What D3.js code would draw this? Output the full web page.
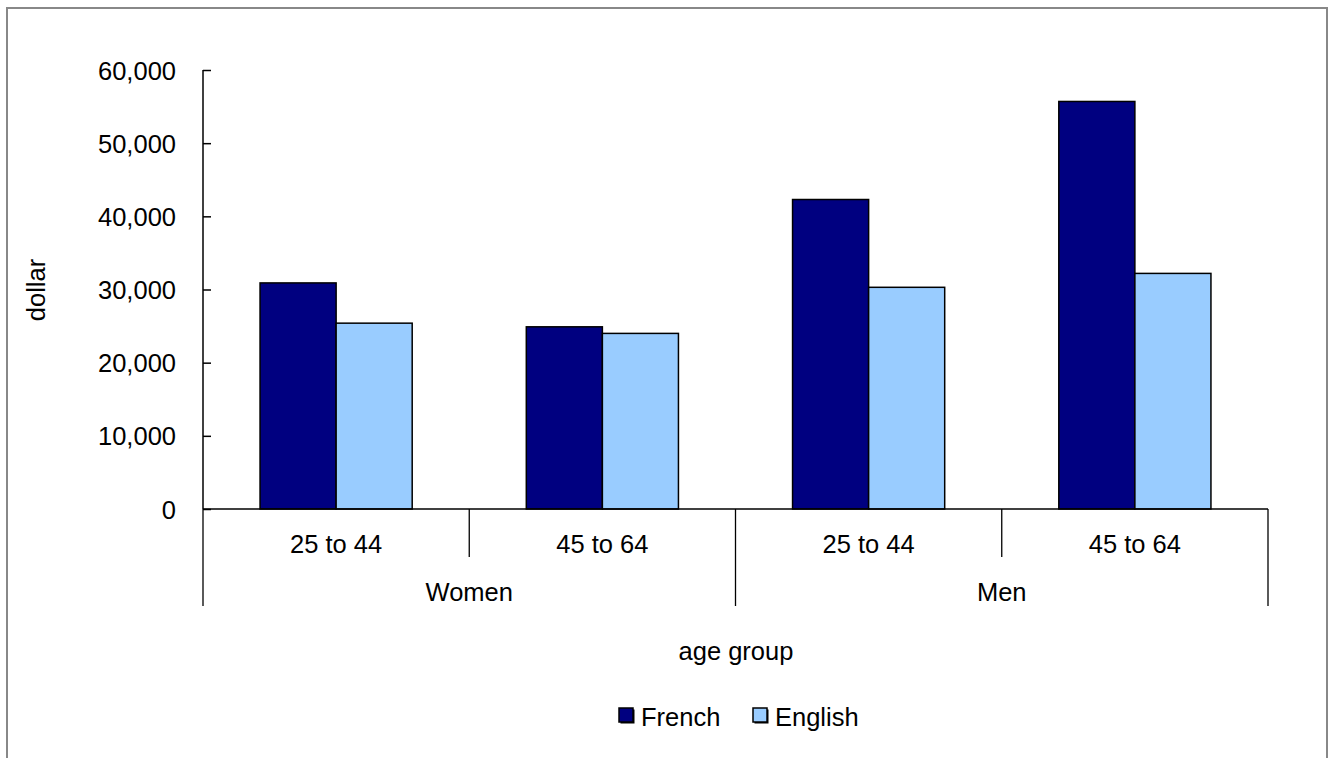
<!DOCTYPE html>
<html><head><meta charset="utf-8">
<script src="https://cdn.jsdelivr.net/npm/d3@7"></script>
<style>body{margin:0;background:#fff}svg{display:block;font-family:"Liberation Sans",Arial,sans-serif}</style>
</head><body>
<svg id="c" width="1328" height="758"></svg>
<script>
const groups = ["Women", "Men"];
const ageGroups = ["25 to 44", "45 to 64"];
const series = ["French", "English"];
const colors = ["#000080", "#99CCFF"];
const french = [30900, 24900, 42300, 55700];
const english = [25400, 24000, 30300, 32200];
const yTicks = [0, 10000, 20000, 30000, 40000, 50000, 60000];

const FS = 25.5;
const svg = d3.select("#c");
const L = 203, R = 1268, T = 70, B = 509;
const cats = [];
groups.forEach(g => ageGroups.forEach(a => cats.push(g + "|" + a)));
const x = d3.scaleBand().domain(cats).range([L, R]).paddingInner(0).paddingOuter(0);
const y = d3.scaleLinear().domain([0, 60000]).range([B, T]);
const vals = [french, english];

// frame
svg.append("rect").attr("x", 7).attr("y", 8).attr("width", 1320).attr("height", 770)
  .attr("fill", "#fff").attr("stroke", "#888").attr("stroke-width", 2);

// bars
const bw = x.bandwidth() / 3.5;
cats.forEach((c, i) => {
  series.forEach((s, j) => {
    const x0 = x(c) + bw * 0.75 + j * bw;
    svg.append("rect").attr("x", x0).attr("y", y(vals[j][i]))
      .attr("width", bw).attr("height", y(0) - y(vals[j][i]))
      .attr("fill", colors[j]).attr("stroke", "#000").attr("stroke-width", 1.5);
  });
});

// y axis
const ya = svg.append("g").attr("transform", `translate(${L},0)`)
  .call(d3.axisRight(y).tickValues(yTicks).tickSize(8).tickFormat(""));
ya.select(".domain").remove();
ya.selectAll("line").attr("stroke", "#000").attr("stroke-width", 1.5);
svg.append("line").attr("x1", L).attr("x2", L).attr("y1", T).attr("y2", B)
  .attr("stroke", "#000").attr("stroke-width", 1.5);
svg.selectAll(".yl").data(yTicks).enter().append("text")
  .attr("x", 176).attr("y", d => y(d) + 9.5)
  .attr("text-anchor", "end").attr("font-size", FS).attr("fill", "#000")
  .text(d => d3.format(",")(d));

// x axis line
svg.append("line").attr("x1", L).attr("x2", R).attr("y1", B).attr("y2", B)
  .attr("stroke", "#000").attr("stroke-width", 1.5);

// sub-category labels and dividers
cats.forEach((c, i) => {
  svg.append("text").attr("x", x(c) + x.bandwidth() / 2).attr("y", 553)
    .attr("text-anchor", "middle").attr("font-size", FS)
    .text(c.split("|")[1]);
});
const xs = cats.map(c => x(c)).concat([R]);
xs.forEach((xx, i) => {
  const major = i % 2 === 0;
  svg.append("line").attr("x1", xx).attr("x2", xx).attr("y1", B).attr("y2", major ? 606 : 557)
    .attr("stroke", "#000").attr("stroke-width", 1.3);
});
groups.forEach((g, gi) => {
  const x0 = x(g + "|" + ageGroups[0]);
  const x1 = x(g + "|" + ageGroups[ageGroups.length - 1]) + x.bandwidth();
  svg.append("text").attr("x", (x0 + x1) / 2).attr("y", 601)
    .attr("text-anchor", "middle").attr("font-size", FS).text(g);
});

// axis titles
svg.append("text").attr("transform", "translate(45,290) rotate(-90)")
  .attr("text-anchor", "middle").attr("font-size", FS).text("dollar");
svg.append("text").attr("x", 736).attr("y", 660)
  .attr("text-anchor", "middle").attr("font-size", FS).text("age group");

// legend
const lx = [619, 753];
series.forEach((s, j) => {
  svg.append("rect").attr("x", lx[j] + 1.5).attr("y", 709.5).attr("width", 14).attr("height", 14)
    .attr("fill", "#000");
  svg.append("rect").attr("x", lx[j]).attr("y", 708).attr("width", 14).attr("height", 14)
    .attr("fill", colors[j]).attr("stroke", "#000").attr("stroke-width", 1.5);
  svg.append("text").attr("x", lx[j] + 22).attr("y", 726)
    .attr("font-size", FS).text(s);
});
</script>
</body></html>
